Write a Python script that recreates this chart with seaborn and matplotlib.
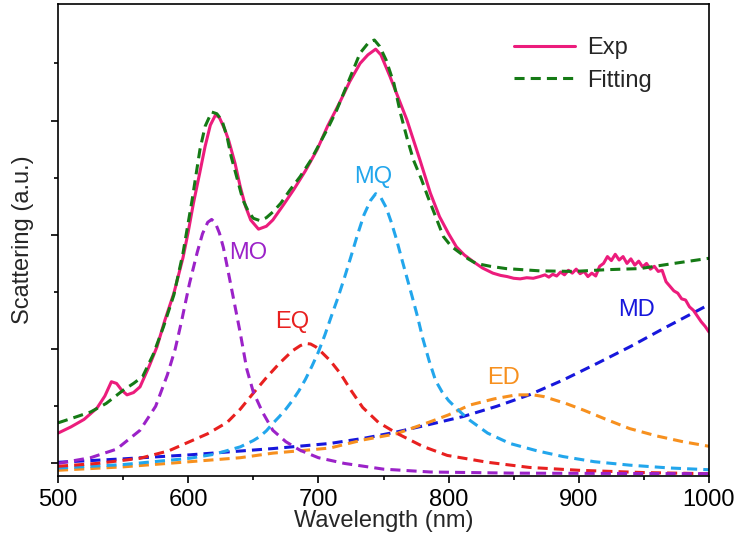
import matplotlib
matplotlib.use("Agg")
import matplotlib.pyplot as plt
import seaborn as sns

# ---------------- data ----------------
exp_wl = [500, 510, 520, 530, 536, 541, 545, 549, 553, 558, 563, 570, 576, 582, 589, 596,
          600, 604, 609, 613, 617, 621, 624, 628, 631, 636, 640, 644, 648, 654, 660, 665, 673,
          681, 690, 699, 707, 716, 724, 732, 738, 744, 748, 755, 761, 768, 773, 778, 786, 793,
          800, 806, 812, 819, 826, 834, 840, 845, 850, 855, 860, 865, 870,
          874, 877, 880, 883, 886, 889, 892, 895, 898, 901, 904, 907, 910, 913, 916, 919, 922,
          925, 928, 931, 934, 937, 940, 943, 946, 949, 952, 955, 958, 961, 964, 967, 970, 973,
          976, 979, 982, 985, 988, 991, 994, 997, 1000]
exp_val = [0.53, 0.64, 0.77, 0.97, 1.18, 1.43, 1.40, 1.28, 1.20, 1.24, 1.34, 1.70, 2.04, 2.50, 2.98, 3.60,
           4.05, 4.55, 5.10, 5.55, 5.92, 6.10, 6.05, 5.85, 5.66, 5.25, 4.84, 4.50, 4.26, 4.10, 4.15, 4.26, 4.52,
           4.79, 5.12, 5.49, 5.90, 6.30, 6.68, 7.00, 7.15, 7.25, 7.15, 6.77, 6.42, 6.01, 5.66, 5.31, 4.73, 4.32,
           4.02, 3.79, 3.65, 3.53, 3.42, 3.33, 3.29, 3.27, 3.24, 3.23, 3.25, 3.24, 3.27,
           3.30, 3.26, 3.31, 3.28, 3.35, 3.30, 3.38, 3.33, 3.40, 3.32, 3.36, 3.27, 3.33, 3.28, 3.45, 3.50, 3.62,
           3.55, 3.66, 3.56, 3.62, 3.50, 3.58, 3.47, 3.54, 3.44, 3.50, 3.40, 3.45, 3.36, 3.38, 3.18, 3.10, 3.02,
           2.98, 2.88, 2.86, 2.74, 2.68, 2.58, 2.48, 2.40, 2.30]

fit_wl = [500, 512, 525, 537, 550, 558, 565, 573, 581, 589, 596, 603, 609, 613, 618, 622, 626, 630,
          633, 638, 642, 646, 650, 655, 660, 665, 671, 678, 686, 694, 701, 708, 714, 723, 732, 738,
          743, 747, 752, 758, 763, 768, 773, 779, 784, 789, 796, 802, 809, 815, 821, 832, 844, 870,
          896, 921, 947, 973, 1000]
fit_val = [0.71, 0.80, 0.90, 1.05, 1.28, 1.40, 1.52, 1.90, 2.39, 2.95, 3.68, 4.61, 5.49, 5.90, 6.15, 6.12, 6.00, 5.70,
           5.37, 4.95, 4.61, 4.42, 4.29, 4.25, 4.30, 4.40, 4.55, 4.78, 5.02, 5.30, 5.60, 5.90, 6.18, 6.68, 7.18, 7.35,
           7.41, 7.30, 7.06, 6.65, 6.13, 5.70, 5.31, 4.98, 4.67, 4.38, 3.97, 3.80, 3.68, 3.58, 3.50, 3.45, 3.41, 3.37,
           3.36, 3.39, 3.41, 3.50, 3.59]

mo_wl = [500, 525, 545, 563, 575, 584, 590, 595, 601, 607, 611, 615, 618, 621, 624, 627, 630, 635,
         640, 645, 650, 657, 665, 675, 686, 700, 720, 750, 786, 850, 1000]
mo_val = [0.00, 0.10, 0.25, 0.58, 1.00, 1.55, 2.00, 2.50, 3.15, 3.70, 4.02, 4.22, 4.27, 4.20, 4.03, 3.78, 3.44, 2.86,
          2.28, 1.65, 1.25, 0.90, 0.58, 0.38, 0.23, 0.10, 0.00, -0.10, -0.15, -0.17, -0.18]

eq_wl = [500, 530, 563, 585, 601, 615, 630, 640, 650, 660, 670, 680, 686, 690, 694, 698, 701, 709,
         717, 725, 734, 746, 760, 780, 799, 830, 862, 900, 950, 1000]
eq_val = [-0.05, 0.00, 0.09, 0.22, 0.38, 0.52, 0.72, 0.95, 1.23, 1.50, 1.75, 1.97, 2.06, 2.10, 2.09, 2.04, 1.98, 1.80,
          1.57, 1.28, 0.98, 0.72, 0.53, 0.30, 0.14, 0.02, -0.07, -0.12, -0.16, -0.18]

mq_wl = [500, 550, 601, 620, 640, 650, 655, 660, 665, 670, 675, 680, 685, 690, 695, 700, 705, 710,
         715, 720, 725, 730, 735, 740, 744, 748, 752, 756, 760, 764, 768, 772, 776, 780, 785, 790,
         795, 800, 808, 816, 830, 847, 868, 888, 912, 939, 970, 1000]
mq_val = [-0.08, -0.02, 0.09, 0.16, 0.29, 0.40, 0.47, 0.57, 0.70, 0.82, 0.95, 1.10, 1.27, 1.47, 1.70, 1.95, 2.25, 2.58,
          2.90, 3.25, 3.62, 4.00, 4.35, 4.60, 4.72, 4.65, 4.48, 4.22, 3.92, 3.58, 3.25, 2.92, 2.58, 2.20, 1.80, 1.45,
          1.25, 1.10, 0.92, 0.76, 0.53, 0.35, 0.22, 0.12, 0.03, -0.03, -0.08, -0.11]

ed_wl = [500, 550, 601, 640, 665, 690, 709, 734, 760, 786, 800, 816, 835, 852, 865, 873, 890, 904,
         920, 939, 960, 980, 1000]
ed_val = [-0.12, -0.06, 0.03, 0.10, 0.18, 0.23, 0.27, 0.41, 0.52, 0.73, 0.85, 1.02, 1.13, 1.20, 1.20, 1.17, 1.05, 0.93,
          0.78, 0.61, 0.48, 0.38, 0.30]

md_wl = [500, 550, 601, 665, 709, 735, 760, 785, 811, 837, 862, 888, 914, 940, 965, 985, 1000]
md_val = [0.02, 0.08, 0.15, 0.26, 0.35, 0.44, 0.55, 0.68, 0.82, 1.00, 1.20, 1.46, 1.75, 2.05, 2.36, 2.60, 2.78]

x_ticks = [500, 600, 700, 800, 900, 1000]
x_tick_labels = ["500", "600", "700", "800", "900", "1000"]

labels_text = ["MO", "MQ", "EQ", "ED", "MD"]
labels_pos = [(646, 3.69), (741.7, 5.01), (679.5, 2.47), (842, 1.50), (944.5, 2.69)]

# ---------------- style ----------------
sns.set_style("ticks")
plt.rcParams["font.family"] = ["Liberation Sans", "DejaVu Sans"]

c_exp = "#EC1C7C"
c_fit = "#157A15"
c_mo = "#9B22C8"
c_eq = "#E8201F"
c_mq = "#22A6EC"
c_ed = "#F7901E"
c_md = "#1717DC"
label_colors = [c_mo, c_mq, c_eq, c_ed, c_md]

fig = plt.figure(figsize=(7.38, 5.39), dpi=100)
ax = fig.add_axes([58 / 738, 1 - 476 / 539, (709 - 58) / 738, (476 - 4) / 539])

lw = 2.2
dash = (3.3, 2.0)

def dashed(wl, val, color):
    sns.lineplot(x=wl, y=val, ax=ax, color=color, linewidth=lw, sort=False)
    ln = ax.lines[-1]
    ln.set_dashes(dash)
    return ln

dashed(md_wl, md_val, c_md)
dashed(ed_wl, ed_val, c_ed)
dashed(mq_wl, mq_val, c_mq)
dashed(eq_wl, eq_val, c_eq)
dashed(mo_wl, mo_val, c_mo)

sns.lineplot(x=exp_wl, y=exp_val, ax=ax, color=c_exp, linewidth=lw, sort=False, label="Exp")
sns.lineplot(x=fit_wl, y=fit_val, ax=ax, color=c_fit, linewidth=lw, sort=False, label="Fitting")
ax.lines[-1].set_dashes(dash)

for t, (px, py), c in zip(labels_text, labels_pos, label_colors):
    ax.text(px, py, t, color=c, fontsize=17, ha="center", va="center")

ax.set_xlim(500, 1000)
ax.set_ylim(-0.22, 8.04)
ax.set_xticks(x_ticks)
ax.set_xticklabels(x_tick_labels)
ax.set_xticks([550, 650, 750, 850, 950], minor=True)
ax.set_yticks([0, 2, 4, 6])
ax.set_yticks([1, 3, 5, 7], minor=True)
ax.set_yticklabels([])

for s in ax.spines.values():
    s.set_visible(True)
    s.set_linewidth(1.2)
    s.set_color("black")

ax.tick_params(axis="both", which="major", direction="out", length=5, width=1.2,
               labelsize=17, pad=4, colors="black")
ax.tick_params(axis="both", which="minor", direction="out", length=3, width=1.2, colors="black")

ax.set_xlabel("Wavelength (nm)", fontsize=17, labelpad=0)
ax.set_ylabel("Scattering (a.u.)", fontsize=17, labelpad=8)

leg = ax.legend(loc="upper left", bbox_to_anchor=(0.70, 0.93), frameon=False, fontsize=17,
                handlelength=2.6, handletextpad=0.5, labelspacing=0.45, borderaxespad=0, borderpad=0)

fig.savefig("out.png", dpi=100)
